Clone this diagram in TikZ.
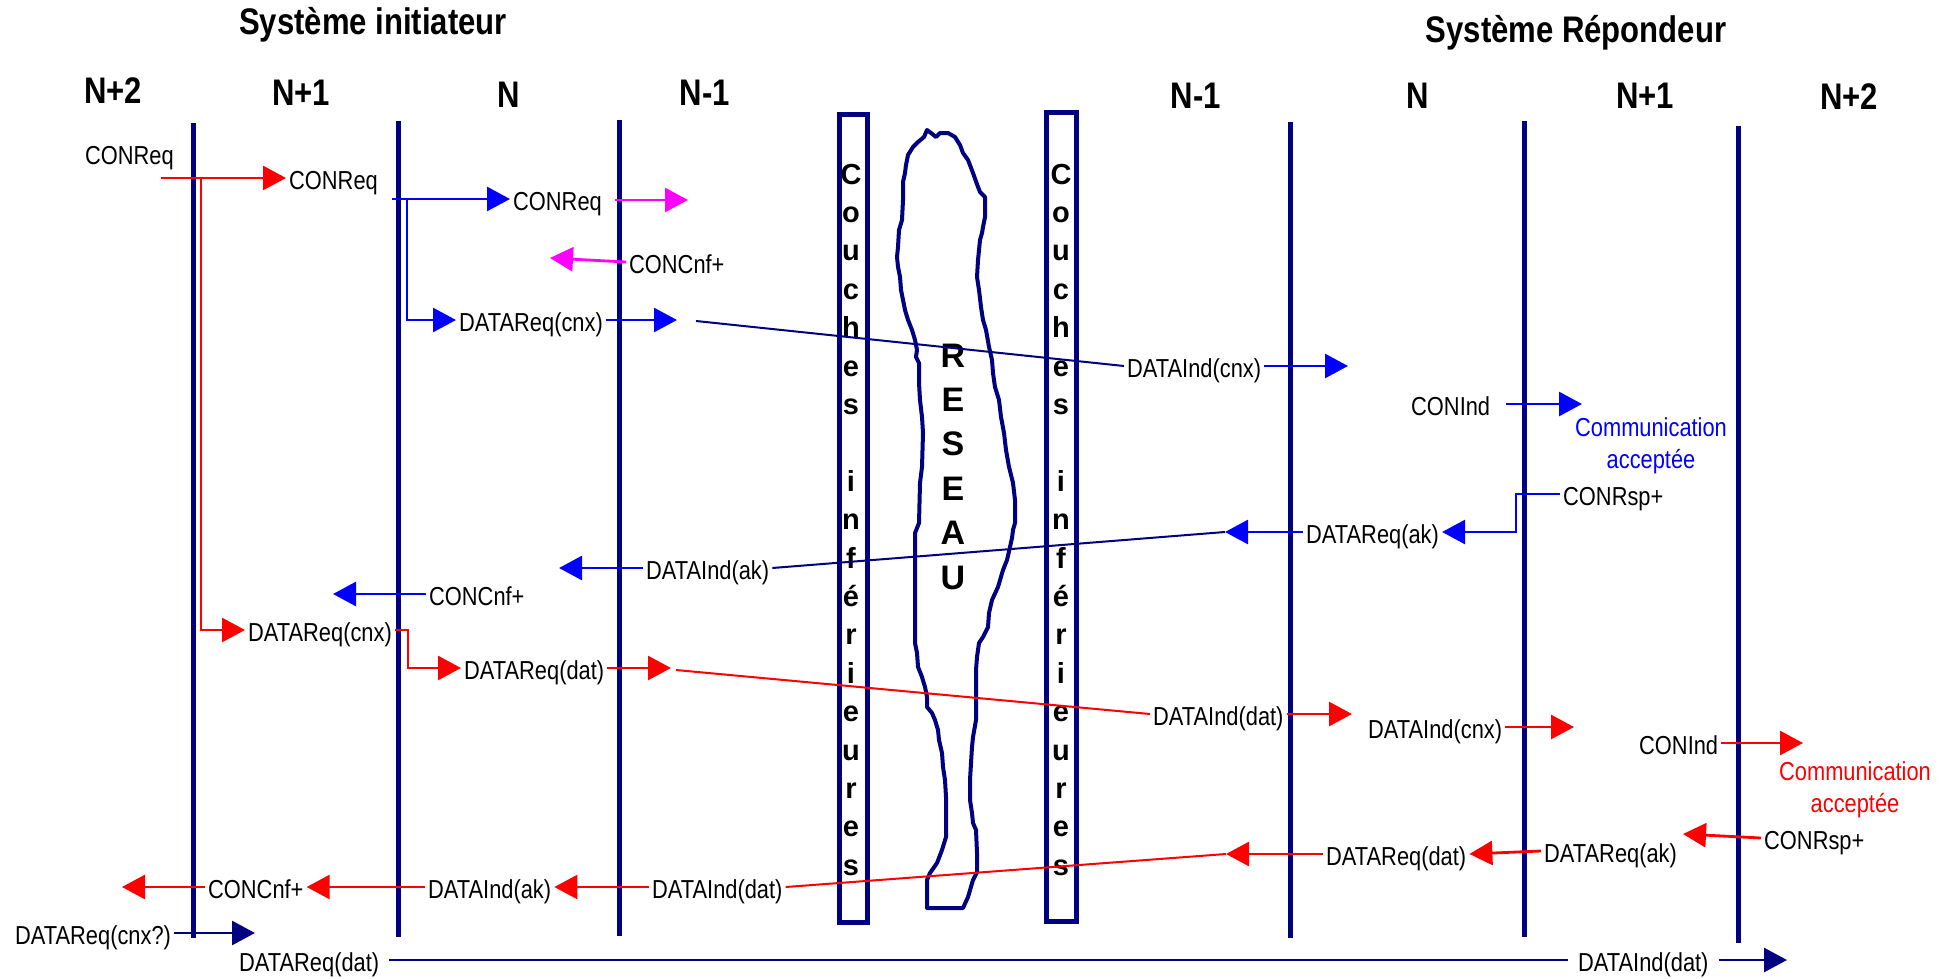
\documentclass[tikz,border=0pt]{standalone}
\usepackage{fontspec}
\setmainfont{Liberation Sans}[FakeStretch=0.84]
\newfontfamily\widefont{Liberation Sans}
\usepackage{xcolor}
\usepackage{tikz}
\usetikzlibrary{arrows.meta}
\definecolor{navy}{RGB}{0,0,128}
\definecolor{pureblue}{RGB}{0,0,255}
\definecolor{purered}{RGB}{255,0,0}
\definecolor{puremagenta}{RGB}{255,0,255}
\newcommand{\msgfont}{\fontsize{26}{32}\selectfont}
\newcommand{\titlefont}{\fontsize{37}{40}\selectfont\bfseries}
\newcommand{\letterfont}{\widefont\fontsize{29}{30}\selectfont\bfseries}
\newcommand{\reseaufont}{\widefont\fontsize{34}{36}\selectfont\bfseries}

\begin{document}
\begin{tikzpicture}[x=1pt, y=-1pt,
  msg/.style={anchor=west, inner xsep=3pt, inner ysep=0pt, text height=25pt, text depth=3pt, font=\msgfont},
  layer/.style={font=\titlefont, inner sep=0pt},
  letter/.style={anchor=base, inner sep=0pt, font=\letterfont},
  lifeline/.style={draw=navy, line width=5pt},
  couche/.style={draw=navy, line width=5pt},
  arr/.style={line width=2.8pt, -{Triangle[length=23pt, width=24pt]}},
  longline/.style={line width=2pt}]
  \useasboundingbox (0,0) rectangle (1950,979);

  % Titles
  \node (init) [layer] at (373,25) {Système initiateur};
  \node (rep) [layer] at (1576,33) {Système Répondeur};
  \foreach \x/\y/\t [count=\i] in {113/91/N+2, 301/93/N+1, 509/95/N, 705/93/N-1,
      1196/96/N-1, 1418/96/N, 1645/96/N+1, 1849/97/N+2}
    \node (lvl\i) [layer] at (\x,\y) {\t};

  % Lifelines
  \foreach \x/\a/\b in {193/123/938, 398/121/937, 619/120/936,
      1290/122/938, 1524/121/937, 1738/126/943}
    \draw[lifeline] (\x,\a) -- (\x,\b);

  % Couches inferieures
  \draw[couche] (839.5,114.5) rectangle (867.5,922.5);
  \draw[couche] (1046.5,112.5) rectangle (1076.5,921.5);
  \foreach \bx/\bn in {851/l, 1061/r} {
    \foreach \c [count=\i] in {C,o,u,c,h,e,s}
      \node (c\bn\i) [letter] at (\bx,{184+38.4*(\i-1)}) {\c};
    \foreach \c [count=\i] in {i,n,f,é,r,i,e,u,r,e,s}
      \node (i\bn\i) [letter] at (\bx,{491.2+38.4*(\i-1)}) {\c};
  }

  % Reseau
  \draw[navy, line width=4pt, line join=round]
    (927,130) -- (924,137) -- (918,142) -- (913,147) -- (908,155) -- (906,165)
    -- (905,173) -- (903,182) -- (903,200) -- (902,220) -- (899,230) -- (898,247)
    -- (897,257) -- (898,267) -- (900,277) -- (901,290) -- (903,300) -- (905,310)
    -- (908,320) -- (912,330) -- (915,340) -- (917,350) -- (916,357) -- (919,363)
    -- (919,383) -- (920,400) -- (922,417) -- (923,433) -- (922,467) -- (920,483)
    -- (919,523) -- (915,533) -- (915,643) -- (917,653) -- (918,667) -- (922,677)
    -- (925,687) -- (927,697) -- (927,707) -- (932,713) -- (935,720) -- (938,730)
    -- (939,740) -- (942,753) -- (943,767) -- (945,780) -- (946,797) -- (946,837)
    -- (942,850) -- (937,863) -- (930,873) -- (927,880) -- (927,908) -- (963,908)
    -- (968,897) -- (973,880) -- (977,872) -- (977,853) -- (976,830) -- (973,823)
    -- (972,813) -- (970,800) -- (970,780) -- (971,763) -- (972,747) -- (973,737)
    -- (976,720) -- (976,670) -- (977,657) -- (979,643) -- (983,637) -- (988,627)
    -- (989,613) -- (992,600) -- (998,587) -- (1003,570) -- (1007,560) -- (1010,547)
    -- (1012,538) -- (1013,530) -- (1015,523) -- (1015,500) -- (1013,483) -- (1009,467)
    -- (1006,450) -- (1004,433) -- (1001,417) -- (999,400) -- (995,387) -- (993,373)
    -- (992,360) -- (989,347) -- (986,330) -- (983,320) -- (981,307) -- (979,290)
    -- (977,277) -- (978,260) -- (979,250) -- (980,240) -- (982,233) -- (983,227)
    -- (985,217) -- (985,197) -- (980,192) -- (978,187) -- (973,173) -- (968,160)
    -- (963,153) -- (960,145) -- (955,137) -- (948,133) -- (940,133) -- (936,137)
    -- (931,133) -- cycle;
  \foreach \c [count=\i] in {R,E,S,E,A,U}
    \node (res\i) [anchor=base, inner sep=0pt, font=\reseaufont] at (953,{367+44.4*(\i-1)}) {\c};

  % Nodes
  \node (conreqA) [msg] at (82,153) {CONReq};
  \node (conreqB) [msg] at (286,178) {CONReq};
  \node (conreqC) [msg] at (510,199) {CONReq};
  \node (dreqcnxB) [msg] at (456,320) {DATAReq(cnx)};
  \node (concnfM) [msg] at (626,262) {CONCnf+};
  \node (dindcnxB) [msg] at (1124,366) {DATAInd(cnx)};
  \node (conindB) [msg, inner xsep=16pt] at (1395,404) {CONInd};
  \node (commB) [font=\msgfont, text=pureblue, align=center, inner sep=0pt] at (1651,446) {Communication\\acceptée};
  \node (conrspB) [msg] at (1560,494) {CONRsp+};
  \node (dreqakB) [msg] at (1303,532) {DATAReq(ak)};
  \node (dindakB) [msg] at (643,568) {DATAInd(ak)};
  \node (concnfB) [msg] at (426,594) {CONCnf+};
  \node (dreqcnxR) [msg] at (245,630) {DATAReq(cnx)};
  \node (dreqdatR) [msg] at (461,668) {DATAReq(dat)};
  \node (dinddatR) [msg] at (1150,714) {DATAInd(dat)};
  \node (dindcnxR) [msg] at (1365,727) {DATAInd(cnx)};
  \node (conindR) [msg] at (1636,743) {CONInd};
  \node (commR) [font=\msgfont, text=purered, align=center, inner sep=0pt] at (1855,790) {Communication\\acceptée};
  \node (conrspR) [msg] at (1761,838) {CONRsp+};
  \node (dreqakR) [msg] at (1541,851) {DATAReq(ak)};
  \node (dreqdatR2) [msg] at (1323,854) {DATAReq(dat)};
  \node (dinddatR2) [msg] at (649,887) {DATAInd(dat)};
  \node (dindakR) [msg] at (425,887) {DATAInd(ak)};
  \node (concnfR) [msg] at (205,887) {CONCnf+};
  \node (dreqcnxQ) [msg] at (12,933) {DATAReq(cnx?)};
  \node (dreqdatN) [msg, inner xsep=10pt] at (229,960) {DATAReq(dat)};
  \node (dinddatN) [msg, inner xsep=10pt] at (1568,960) {DATAInd(dat)};

  % Free ends
  \coordinate (rA) at (161,178);
  \coordinate (rB) at (201,178);
  \coordinate (bA) at (392,199);
  \coordinate (bB) at (407,199);
  \coordinate (bC) at (677,320);
  \coordinate (nA) at (696,321);
  \coordinate (bD) at (1348,366);
  \coordinate (mA) at (615,200);
  \coordinate (mB) at (688,200);
  \coordinate (mC) at (550,258);
  \coordinate (bE) at (1582,404);
  \coordinate (bF) at (1516,494);
  \coordinate (bG) at (1225,532);
  \coordinate (bH) at (559,568);
  \coordinate (bI) at (333,594);
  \coordinate (rC) at (408,668);
  \coordinate (rD) at (671,668);
  \coordinate (rE) at (676,670);
  \coordinate (rF) at (1352,714);
  \coordinate (rG) at (1574,727);
  \coordinate (rH) at (1803,743);
  \coordinate (rI) at (1683,834);
  \coordinate (rJ) at (1226,854);
  \coordinate (rK) at (122,887);
  \coordinate (nB) at (255,933);
  \coordinate (nC) at (1787,960);

  % Edges
  \draw[arr, purered] (rA) -- (conreqB.west);
  \draw[arr, purered] (rB) |- (dreqcnxR.west);
  \draw[arr, pureblue] (bA) -- (conreqC.west);
  \draw[arr, pureblue] (bB) |- (dreqcnxB.west);
  \draw[arr, pureblue] (dreqcnxB.east) -- (bC);
  \draw[longline, navy] (nA) -- (dindcnxB.west);
  \draw[arr, pureblue] (dindcnxB.east) -- (bD);
  \draw[arr, puremagenta] (mA) -- (mB);
  \draw[arr, puremagenta] (concnfM.west) -- (mC);
  \draw[arr, pureblue] (conindB.east) -- (bE);
  \draw[arr, pureblue] (conrspB.west) -- (bF) |- (dreqakB.east);
  \draw[arr, pureblue] (dreqakB.west) -- (bG);
  \draw[longline, navy] (bG) -- (dindakB.east);
  \draw[arr, pureblue] (dindakB.west) -- (bH);
  \draw[arr, pureblue] (concnfB.west) -- (bI);
  \draw[arr, purered] (dreqcnxR.east) -| (rC) -- (dreqdatR.west);
  \draw[arr, purered] (dreqdatR.east) -- (rD);
  \draw[longline, purered] (rE) -- (dinddatR.west);
  \draw[arr, purered] (dinddatR.east) -- (rF);
  \draw[arr, purered] (dindcnxR.east) -- (rG);
  \draw[arr, purered] (conindR.east) -- (rH);
  \draw[arr, purered] (conrspR.west) -- (rI);
  \draw[arr, purered] (dreqakR.west) -- (dreqdatR2.east);
  \draw[arr, purered] (dreqdatR2.west) -- (rJ);
  \draw[longline, purered] (rJ) -- (dinddatR2.east);
  \draw[arr, purered] (dinddatR2.west) -- (dindakR.east);
  \draw[arr, purered] (dindakR.west) -- (concnfR.east);
  \draw[arr, purered] (concnfR.west) -- (rK);
  \draw[arr, navy] (dreqcnxQ.east) -- (nB);
  \draw[longline, navy] (dreqdatN.east) -- (dinddatN.west);
  \draw[arr, navy] (dinddatN.east) -- (nC);
\end{tikzpicture}
\end{document}
